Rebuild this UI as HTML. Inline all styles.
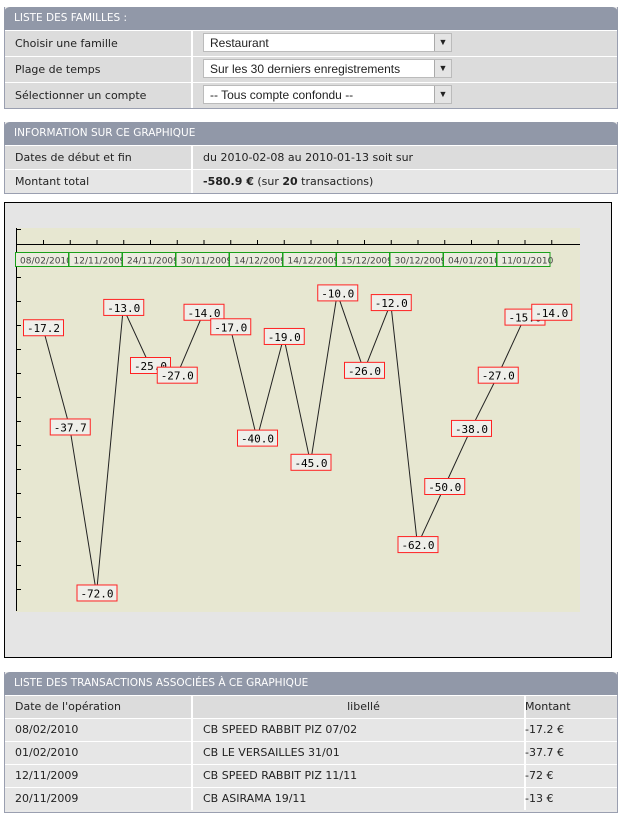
<!DOCTYPE html>
<html><head><meta charset="utf-8"><style>
body{margin:0;width:620px;height:807px;background:#fff;font-family:"DejaVu Sans","Liberation Sans",sans-serif;font-size:11px;color:#222;position:relative;overflow:hidden}
.panel{position:absolute;left:4px;width:612px;border:1px solid #9a9fb0;border-top:none;background:#e9e9e9}
.hdr{background:#9198a8;color:#fff;height:23px;line-height:23px;padding-left:10px;font-size:10.5px;border-radius:6px 6px 0 0;margin-left:-1px;margin-right:-1px}
.row{position:relative;border-top:1px solid #fff;background:#e6e6e6}
.row.alt{background:#dcdcdc}
.lab{position:absolute;left:0;top:0;bottom:0;width:188px;padding-left:10px;border-right:2px solid #fff;box-sizing:border-box}
.val{position:absolute;left:194px;top:0;padding-left:4px}
.sel{position:absolute;left:198px;width:249px;height:19px;background:#fff;border:1px solid #bbb;font-family:"Liberation Sans",sans-serif;font-size:12px;line-height:19px;padding-left:6px;box-sizing:border-box}
.sel b{position:absolute;right:0;top:0;width:16px;height:17px;background:#e4e4e4;border-left:1px solid #aaa;font-size:9px;text-align:center;line-height:17px;font-weight:normal}
</style></head><body>
<div class="panel" style="top:7px">
 <div class="hdr">LISTE DES FAMILLES :</div>
 <div class="row alt" style="height:25px;line-height:25px"><div class="lab">Choisir une famille</div><div class="sel" style="top:2px">Restaurant<b>&#9660;</b></div></div>
 <div class="row alt" style="height:25px;line-height:25px"><div class="lab">Plage de temps</div><div class="sel" style="top:2px">Sur les 30 derniers enregistrements<b>&#9660;</b></div></div>
 <div class="row alt" style="height:25px;line-height:25px"><div class="lab">Sélectionner un compte</div><div class="sel" style="top:2px">-- Tous compte confondu --<b>&#9660;</b></div></div>
</div>
<div class="panel" style="top:122px">
 <div class="hdr">INFORMATION SUR CE GRAPHIQUE</div>
 <div class="row alt" style="height:23px;line-height:23px"><div class="lab">Dates de début et fin</div><div class="val">du 2010-02-08 au 2010-01-13 soit sur</div></div>
 <div class="row" style="height:23px;line-height:23px"><div class="lab">Montant total</div><div class="val"><b>-580.9 €</b> (sur <b>20</b> transactions)</div></div>
</div>
<svg id="chart" style="position:absolute;left:0;top:0" width="620" height="670" font-family="DejaVu Sans Mono, Liberation Mono, monospace"></svg>
<div class="panel" style="top:672px;height:140px">
 <div class="hdr">LISTE DES TRANSACTIONS ASSOCIÉES À CE GRAPHIQUE</div>
 <div id="tbl"></div>
</div>
<script>
const dates=["08/02/2010","12/11/2009","24/11/2009","30/11/2009","14/12/2009","14/12/2009","15/12/2009","30/12/2009","04/01/2010","11/01/2010"];
const values=[-17.2,-37.7,-72,-13,-25,-27,-14,-17,-40,-19,-45,-10,-26,-12,-62,-50,-38,-27,-15,-14];
const rows=[["08/02/2010","CB SPEED RABBIT PIZ 07/02","-17.2 €"],["01/02/2010","CB LE VERSAILLES 31/01","-37.7 €"],["12/11/2009","CB SPEED RABBIT PIZ 11/11","-72 €"],["20/11/2009","CB ASIRAMA 19/11","-13 €"]];
const NS="http://www.w3.org/2000/svg";
const svg=document.getElementById('chart');
function mk(t,a,p){const e=document.createElementNS(NS,t);for(const k in a)e.setAttribute(k,a[k]);(p||svg).appendChild(e);return e;}
const xs=i=>43+i*26.75;
const ys=v=>245-v*4.84;
let e=mk('rect',{x:4.5,y:202.5,width:607,height:455,fill:'#e5e5e5',stroke:'#000'});


e=mk('rect',{x:16,y:228,width:564,height:384,fill:'#e7e7d1'});


mk('line',{x1:16.5,y1:228,x2:16.5,y2:611,stroke:'#000'});
mk('line',{x1:16,y1:244.5,x2:580,y2:244.5,stroke:'#000'});
for(let y=229;y<=611;y+=24){mk('line',{x1:16,y1:y+.5,x2:21,y2:y+.5,stroke:'#000'});}
for(let i=0;i<values.length;i++){mk('line',{x1:xs(i)+.5,y1:240,x2:xs(i)+.5,y2:244,stroke:'#000'});}
dates.forEach((d,i)=>{
 const x=15+i*53.5;
 const g=mk('g',{});
 
 
 mk('rect',{x:x+.5,y:252.5,width:53,height:14,fill:'#ecece0',stroke:'#1aa01a'},g);
 const t=mk('text',{x:x+5,y:263.5,'font-size':9,fill:'#444','font-family':'DejaVu Sans, sans-serif'},g);
 t.textContent=d;
});
const pts=values.map((v,i)=>xs(i)+','+ys(v)).join(' ');
e=mk('polyline',{points:pts,fill:'none',stroke:'#222','stroke-width':1});


values.forEach((v,i)=>{
 const g=mk('g',{});
 
 
 const cx=xs(i),cy=ys(v);
 mk('rect',{x:cx-19.5,y:cy-8.5,width:40,height:16,fill:'#efefea',stroke:'#f22'},g);
 const t=mk('text',{x:cx+.5,y:cy+4,'font-size':11,'text-anchor':'middle',fill:'#000'},g);
 t.textContent=v.toFixed(1);
});
const tbl=document.getElementById('tbl');
function row(cells,cls,h){const r=document.createElement('div');r.className='row '+cls;r.style.height=h+'px';r.style.lineHeight=h+'px';
 
 
 r.innerHTML='<div class="lab">'+cells[0]+'</div><div style="position:absolute;left:189px;width:321px;top:0;bottom:0;border-right:2px solid #fff;padding-left:9px;'+(cls=='alt'?'text-align:center':'')+'">'+cells[1]+'</div><div style="position:absolute;left:520px;top:0">'+cells[2]+'</div>';
 tbl.appendChild(r);}
row(["Date de l'opération","libellé","Montant"],'alt',22);
rows.forEach(r=>row(r,'',22));
</script>
</body></html>
